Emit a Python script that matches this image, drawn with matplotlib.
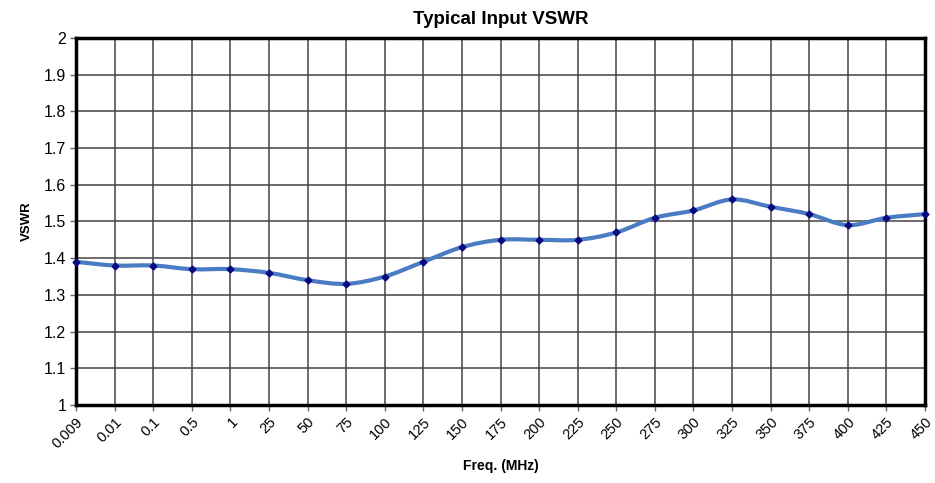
import numpy as np
import matplotlib.pyplot as plt
from matplotlib.path import Path
from matplotlib.patches import PathPatch

plt.rcParams['font.family'] = ['Liberation Sans', 'DejaVu Sans']

freq_labels = ['0.009', '0.01', '0.1', '0.5', '1', '25', '50', '75', '100', '125',
               '150', '175', '200', '225', '250', '275', '300', '325', '350', '375',
               '400', '425', '450']
vswr = [1.39, 1.38, 1.38, 1.37, 1.37, 1.36, 1.34, 1.33, 1.35, 1.39,
        1.43, 1.45, 1.45, 1.45, 1.47, 1.51, 1.53, 1.56, 1.54, 1.52,
        1.49, 1.51, 1.52]
y_ticks = [1, 1.1, 1.2, 1.3, 1.4, 1.5, 1.6, 1.7, 1.8, 1.9, 2]
y_tick_labels = ['1', '1.1', '1.2', '1.3', '1.4', '1.5', '1.6', '1.7', '1.8', '1.9', '2']

x = np.arange(len(freq_labels))
y = np.array(vswr)

fig = plt.figure(figsize=(9.35, 4.83), dpi=100)
ax = fig.add_axes([0.0813, 0.1615, 0.908, 0.76])

# smoothed line like Excel's "smoothed line" (bezier through the points)
verts = [(x[0], y[0])]
codes = [Path.MOVETO]
for i in range(len(x) - 1):
    p0 = np.array([x[max(i - 1, 0)], y[max(i - 1, 0)]])
    p1 = np.array([x[i], y[i]])
    p2 = np.array([x[i + 1], y[i + 1]])
    p3 = np.array([x[min(i + 2, len(x) - 1)], y[min(i + 2, len(x) - 1)]])
    c1 = p1 + (p2 - p0) / 6
    c2 = p2 - (p3 - p1) / 6
    verts += [tuple(c1), tuple(c2), tuple(p2)]
    codes += [Path.CURVE4] * 3
ax.add_patch(PathPatch(Path(verts, codes), facecolor='none', edgecolor='#4a7cc4',
                       lw=3, zorder=3, clip_on=False))
ax.plot(x, y, linestyle='none', marker='D', markersize=3.5, color='#0a0a80', zorder=4, clip_on=False)

ax.set_xlim(0, len(x) - 1)
ax.set_ylim(1, 2)
ax.set_xticks(x)
ax.set_xticklabels(freq_labels, rotation=45, ha='right', rotation_mode='anchor', fontsize=10.5)
ax.set_yticks(y_ticks)
ax.set_yticklabels(y_tick_labels, fontsize=11.5)
ax.tick_params(direction='out', length=4, width=1, color='#666666', pad=3)

ax.grid(True, color='#444444', lw=1.1)
ax.set_axisbelow(True)
for s in ax.spines.values():
    s.set_linewidth(2.5)
    s.set_color('black')

ax.set_title('Typical Input VSWR', fontsize=13.5, fontweight='bold', pad=10)
ax.set_ylabel('VSWR', fontsize=9.5, fontweight='bold', labelpad=8)
ax.set_xlabel('Freq. (MHz)', fontsize=10, fontweight='bold', labelpad=6)

plt.savefig('out.png', dpi=100)
